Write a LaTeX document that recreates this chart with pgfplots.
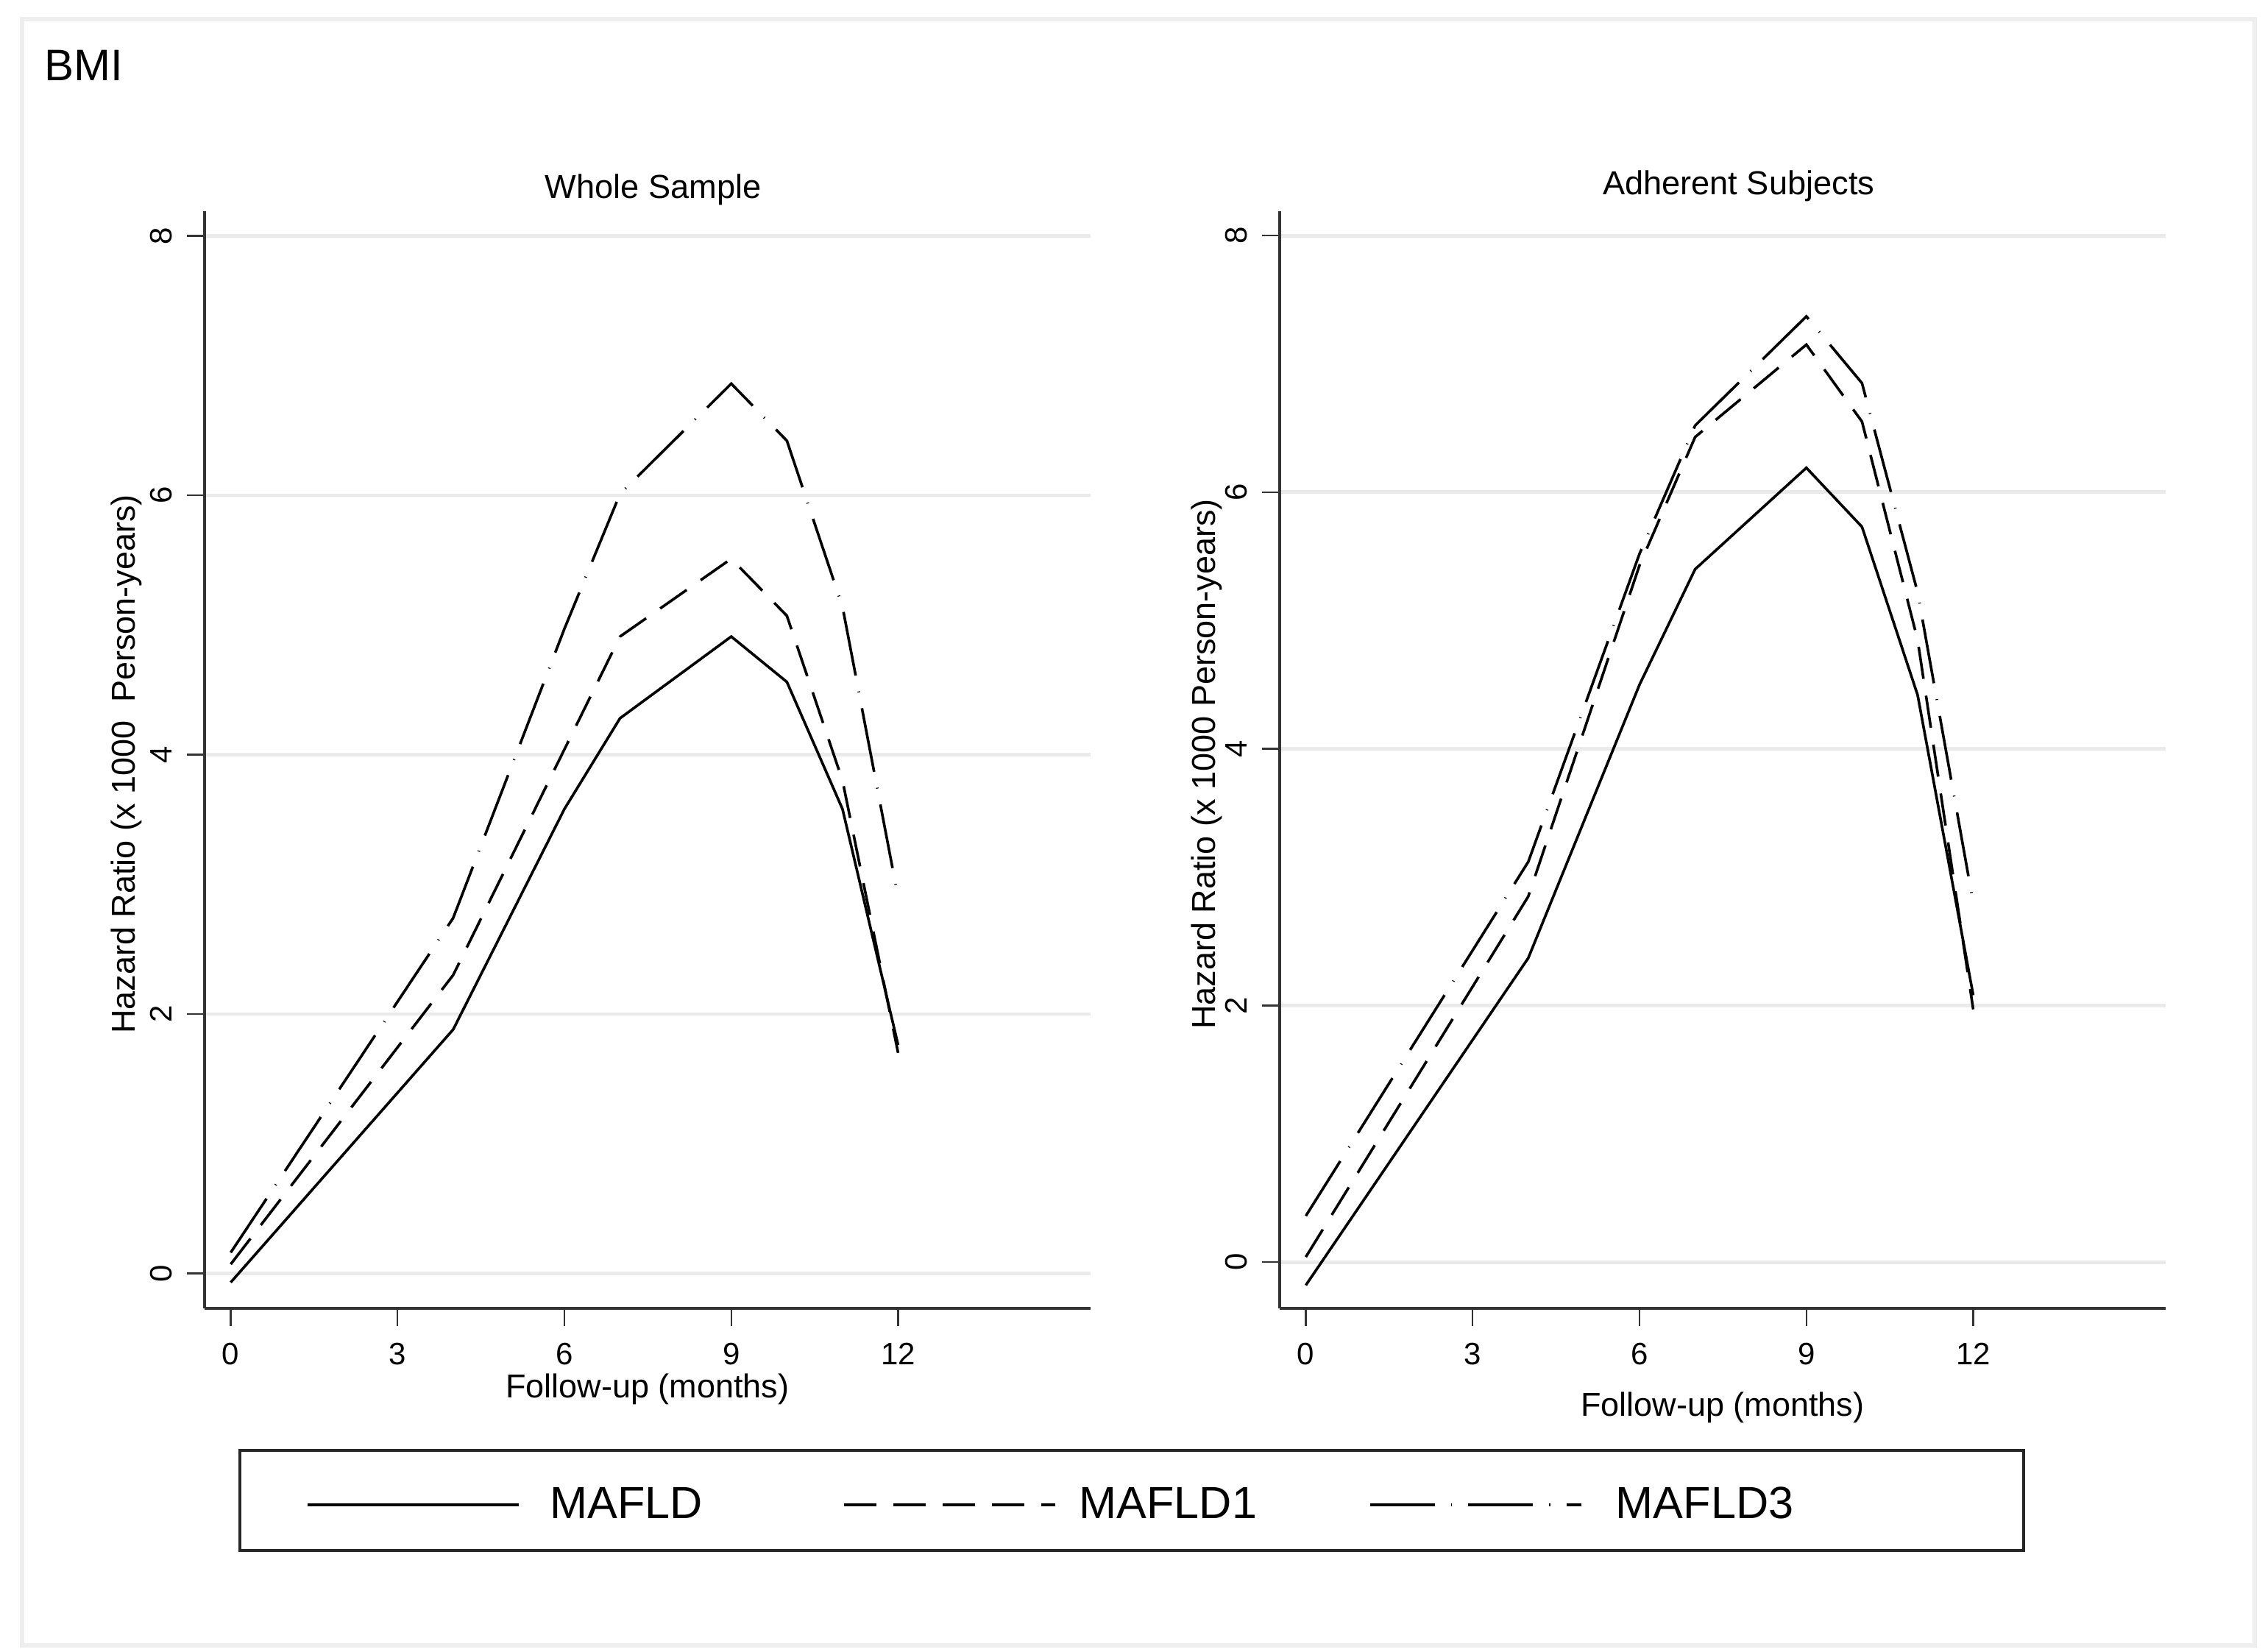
\documentclass[border=0pt]{standalone}
\usepackage{fontspec}
\setmainfont{Liberation Sans}
\usepackage{pgfplots}
\pgfplotsset{compat=1.18}
\definecolor{gridgray}{HTML}{EAEAEA}
\definecolor{axisgray}{HTML}{333333}
\definecolor{framegray}{HTML}{EEEEEE}

\pgfplotstableread{
x  a     b     c
0  -0.07 0.07  0.16
4  1.88  2.30  2.74
6  3.58  4.04  4.97
7  4.28  4.91  6.01
9  4.91  5.51  6.86
10 4.56  5.07  6.42
11 3.58  3.80  5.14
12 1.76  1.70  2.90
}\whole
\pgfplotstableread{
x  a     b     c
0  -0.18 0.04  0.36
4  2.37  2.85  3.12
6  4.50  5.43  5.52
7  5.40  6.43  6.52
9  6.19  7.15  7.37
10 5.73  6.55  6.85
11 4.42  4.85  5.22
12 2.08  1.97  2.80
}\adher

\pgfplotsset{
  panel/.style={
    scale only axis, width=301pt, height=372.75pt,
    xmin=-0.47, xmax=15.46,
    xtick={0,3,6,9,12}, ytick={0,2,4,6,8},
    ymajorgrids, grid style={gridgray, line width=1.2pt},
    axis x line*=bottom, axis y line*=left,
    axis line style={axisgray, line width=1pt, -},
    tick align=outside, major tick length=6pt,
    every tick/.style={axisgray, line width=0.6pt},
    /pgf/number format/assume math mode=true,
    tick label style={font=\fontsize{10.5}{12}\selectfont},
    xticklabel style={anchor=center},
    yticklabel style={rotate=90, anchor=center},
    xticklabel shift=9.5pt,
    yticklabel shift=8.75pt,
    xlabel style={font=\fontsize{11.25}{13}\selectfont, anchor=center},
    legend image code/.code={\draw[#1] (0pt,0pt) -- (71.75pt,0pt);},
  },
  s1/.style={black, line width=0.9pt, solid},
  s2/.style={black, line width=0.9pt, dash pattern=on 11pt off 5.8pt},
  s3/.style={black, line width=0.9pt, dash pattern=on 22pt off 5.5pt on 0.3pt off 5.5pt},
}

\begin{document}
\begin{tikzpicture}
\path[use as bounding box] (0pt,0pt) rectangle (769.5pt,561.25pt);
\draw[framegray, line width=1.5pt] (7.5pt,2.25pt) rectangle (766pt,554.75pt);
\node[anchor=base west, font=\fontsize{15}{18}\selectfont, inner sep=0pt] at (15pt,533.75pt) {BMI};

\begin{axis}[panel,
  at={(69.5pt,116.75pt)}, anchor=south west,
  ymin=-0.27, ymax=8.19,
  title={Whole Sample},
  every axis title/.style={at={(axis description cs:0.5066,1.0195)}, anchor=center, font=\fontsize{11.3}{13}\selectfont},
  xlabel={Follow-up (months)},
  xlabel style={at={(axis description cs:0.5,-0.0738)}},
  ylabel={Hazard Ratio (x 1000~ Person-years)},
  every axis y label/.style={at={(axis description cs:-0.0880,0.496)}, rotate=90, anchor=center, font=\fontsize{11.25}{13}\selectfont},
  legend columns=3,
  legend style={at={(axis description cs:0.1146,-0.1791)}, anchor=west,
    draw=none, fill=none, inner sep=0pt, outer sep=0pt, column sep=0pt,
    font=\fontsize{15.3}{18}\selectfont,
    nodes={inner sep=0pt, outer sep=0pt}},
]
\addplot[s1] table[x=x,y=a] {\whole};
\addlegendentry{\hspace{10.25pt}\makebox[99.3pt][l]{MAFLD}}
\addplot[s2] table[x=x,y=b] {\whole};
\addlegendentry{\hspace{7.85pt}\makebox[98.4pt][l]{MAFLD1}}
\addplot[s3] table[x=x,y=c] {\whole};
\addlegendentry{\hspace{11.25pt}MAFLD3}
\end{axis}

\begin{axis}[panel,
  at={(434.75pt,116.75pt)}, anchor=south west,
  ymin=-0.36, ymax=8.19,
  title={Adherent Subjects},
  every axis title/.style={at={(axis description cs:0.5180,1.0228)}, anchor=center, font=\fontsize{11.3}{13}\selectfont},
  xlabel={Follow-up (months)},
  xlabel style={at={(axis description cs:0.5,-0.0905)}},
  ylabel={Hazard Ratio (x 1000 Person-years)},
  every axis y label/.style={at={(axis description cs:-0.082,0.496)}, rotate=90, anchor=center, font=\fontsize{11.25}{13}\selectfont},
]
\addplot[s1] table[x=x,y=a] {\adher};
\addplot[s2] table[x=x,y=b] {\adher};
\addplot[s3] table[x=x,y=c] {\adher};
\end{axis}

\draw[black!85, line width=1pt] (81.4pt,34.5pt) rectangle (687.5pt,68.6pt);
\end{tikzpicture}
\end{document}
